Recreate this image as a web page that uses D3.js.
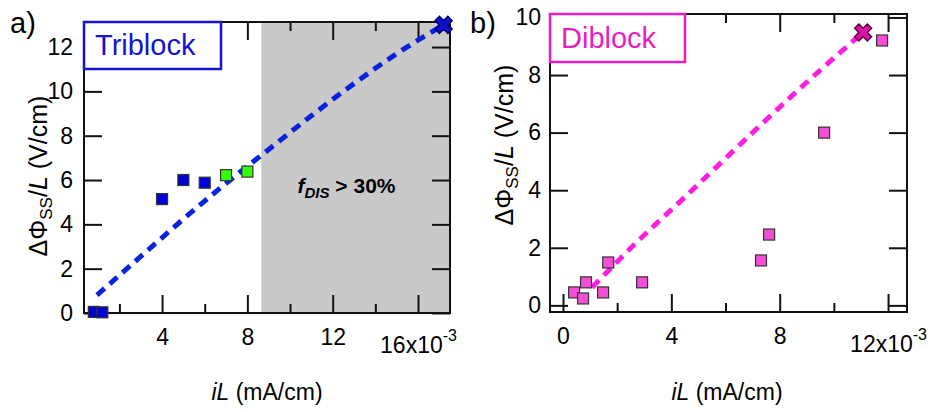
<!DOCTYPE html>
<html>
<head>
<meta charset="utf-8">
<script src="https://cdn.jsdelivr.net/npm/d3@7"></script>
<style>
  body { margin: 0; background: #fff; }
  svg text { font-family: "Liberation Sans", Arial, sans-serif; fill: #000; }
</style>
</head>
<body>
<div id="chart"></div>
<script>
// values in units of 1e-3 mA/cm on x, V/cm on y

// panel a: triblock
const triBlueX = [0.8, 1.2, 4.0, 5.0, 6.0];
const triBlueY = [0.05, 0.03, 5.14, 6.0, 5.88];
const triGreenX = [7.0, 8.0];
const triGreenY = [6.22, 6.38];
const triCross = [17.2, 13.0];
const triFitX = [0.95, 3, 5, 7, 9, 11, 13, 15, 17.2];
const triFitY = [0.81, 2.55, 4.24, 5.85, 7.38, 8.9, 10.35, 11.7, 13.0];
const triShadeFrom = 8.65;
const triXTicks = [4, 8, 12, 16];
const triXMinor = [2, 6, 10, 14];
const triYTicks = [0, 2, 4, 6, 8, 10, 12];

// panel b: diblock
const diX = [0.41, 0.74, 0.85, 1.48, 1.67, 2.92, 7.31, 7.61, 9.64, 11.78];
const diY = [0.45, 0.24, 0.8, 0.45, 1.49, 0.8, 1.56, 2.46, 6.0, 9.2];
const diCross = [11.08, 9.48];
const diFitX = [1.07, 2.73, 4.43, 7, 9, 11.08];
const diFitY = [0.62, 2.2, 3.7, 6.0, 7.75, 9.48];
const diXTicks = [0, 4, 8, 12];
const diXMinor = [2, 6, 10];
const diYTicks = [0, 2, 4, 6, 8, 10];

const svg = d3.select('#chart').append('svg')
  .attr('width', 933)
  .attr('height', 412);

function drawPanel(p) {
  const x = d3.scaleLinear().domain(p.xDomain).range([p.left, p.right]);
  const y = d3.scaleLinear().domain(p.yDomain).range([p.bottom, p.top]);
  const g = svg.append('g');
  const w = p.right - p.left, h = p.bottom - p.top;

  if (p.shadeFrom != null) {
    g.append('rect')
      .attr('x', x(p.shadeFrom)).attr('y', p.top)
      .attr('width', p.right - x(p.shadeFrom)).attr('height', h)
      .attr('fill', '#c9c9c9');
  }

  // inward ticks on all four sides
  const lastX = p.xTicks[p.xTicks.length - 1];
  const bottom = g.append('g').attr('transform', `translate(0,${p.bottom})`)
    .call(d3.axisBottom(x).tickValues(p.xTicks).tickSizeInner(-18).tickSizeOuter(0).tickPadding(16)
      .tickFormat(d => d));
  const bottomMinor = g.append('g').attr('transform', `translate(0,${p.bottom})`)
    .call(d3.axisBottom(x).tickValues(p.xMinor).tickSizeInner(-9).tickSizeOuter(0).tickFormat(''));
  const top = g.append('g').attr('transform', `translate(0,${p.top})`)
    .call(d3.axisTop(x).tickValues(p.xTicks).tickSizeInner(-18).tickSizeOuter(0).tickFormat(''));
  const topMinor = g.append('g').attr('transform', `translate(0,${p.top})`)
    .call(d3.axisTop(x).tickValues(p.xMinor).tickSizeInner(-9).tickSizeOuter(0).tickFormat(''));
  const left = g.append('g').attr('transform', `translate(${p.left},0)`)
    .call(d3.axisLeft(y).tickValues(p.yTicks).tickSizeInner(-18).tickSizeOuter(0).tickPadding(p.yPad));
  const right = g.append('g').attr('transform', `translate(${p.right},0)`)
    .call(d3.axisRight(y).tickValues(p.yTicks).tickSizeInner(-18).tickSizeOuter(0).tickFormat(''));

  [bottom, bottomMinor, top, topMinor, left, right].forEach(a => {
    a.select('.domain').remove();
    a.selectAll('line').attr('stroke', '#111').attr('stroke-width', 2);
    a.selectAll('text').attr('font-size', 23).attr('font-family', '"Liberation Sans", Arial, sans-serif');
  });

  // exponent on the last x label
  bottom.selectAll('.tick text').filter(d => d === lastX)
    .text(null)
    .attr('dy', null).attr('y', 40)
    .call(t => {
      t.append('tspan').text(lastX + 'x10');
      t.append('tspan').attr('font-size', 16).attr('dy', -12).text('-3');
    });

  g.append('rect')
    .attr('x', p.left).attr('y', p.top).attr('width', w).attr('height', h)
    .attr('fill', 'none').attr('stroke', '#111').attr('stroke-width', 2);

  if (p.shadeFrom != null) {
    const t = g.append('text').attr('x', x(p.noteX)).attr('y', y(p.noteY))
      .attr('font-size', 21).attr('font-weight', 'bold');
    t.append('tspan').attr('font-style', 'italic').text('f');
    t.append('tspan').attr('font-style', 'italic').attr('font-size', 15).attr('dy', 5).text('DIS');
    t.append('tspan').attr('dy', -5).text(' > 30%');
  }

  // fit curve
  const line = d3.line().x(d => x(d[0])).y(d => y(d[1])).curve(d3.curveMonotoneX);
  g.append('path')
    .datum(d3.zip(p.fitX, p.fitY))
    .attr('d', line)
    .attr('fill', 'none')
    .attr('stroke', p.lineColor)
    .attr('stroke-width', 5)
    .attr('stroke-dasharray', '10,7');

  // square markers
  p.series.forEach(s => {
    g.selectAll(null)
      .data(d3.zip(s.x, s.y))
      .join('rect')
      .attr('x', d => x(d[0]) - 5.5).attr('y', d => y(d[1]) - 5.5)
      .attr('width', 11).attr('height', 11)
      .attr('fill', s.color)
      .attr('stroke', '#333').attr('stroke-width', 1.2);
  });

  // cross marker
  g.append('path')
    .attr('d', d3.symbol(d3.symbolCross, 180)())
    .attr('transform', `translate(${x(p.cross[0])},${y(p.cross[1])}) rotate(45)`)
    .attr('fill', p.crossColor)
    .attr('stroke', p.crossStroke).attr('stroke-width', 1.5);

  // legend box
  g.append('rect')
    .attr('x', p.left).attr('y', p.top).attr('width', p.boxW).attr('height', p.boxH)
    .attr('fill', '#fff').attr('stroke', p.boxColor).attr('stroke-width', 2.5);
  g.append('text')
    .attr('x', p.left + 11).attr('y', p.top + p.boxH - 14)
    .attr('font-size', 29).style('fill', p.boxColor)
    .text(p.name);

  // panel letter
  g.append('text').attr('x', p.letterX).attr('y', 33).attr('font-size', 29).text(p.letter);

  // y title
  const yt = g.append('text')
    .attr('transform', `translate(${p.yTitleX},${p.yTitleY}) rotate(-90)`)
    .attr('text-anchor', 'middle').attr('font-size', 25);
  yt.append('tspan').text('ΔΦ');
  yt.append('tspan').attr('font-size', 17).attr('dy', 5).text('SS');
  yt.append('tspan').attr('dy', -5).text('/');
  yt.append('tspan').attr('font-style', 'italic').text('L');
  yt.append('tspan').text(' (V/cm)');

  // x title
  const xt = g.append('text')
    .attr('x', p.xTitleX).attr('y', 400)
    .attr('text-anchor', 'middle').attr('font-size', 23);
  xt.append('tspan').attr('font-style', 'italic').text('iL');
  xt.append('tspan').text(' (mA/cm)');
}

drawPanel({
  left: 84, right: 450, top: 22, bottom: 313,
  xDomain: [0.34, 17.5], yDomain: [0, 13.13],
  xTicks: triXTicks, xMinor: triXMinor, yTicks: triYTicks, yPad: 11,
  shadeFrom: triShadeFrom, noteX: 10.35, noteY: 5.4,
  fitX: triFitX, fitY: triFitY, lineColor: '#0a22dd',
  series: [
    { x: triBlueX, y: triBlueY, color: '#0000d8' },
    { x: triGreenX, y: triGreenY, color: '#33ff00' }
  ],
  cross: triCross, crossColor: '#1010d0', crossStroke: '#000070',
  name: 'Triblock', boxColor: '#1414d2', boxW: 137, boxH: 47,
  letter: 'a)', letterX: 10,
  yTitleX: 47, yTitleY: 176, xTitleX: 267
});

drawPanel({
  left: 550, right: 907, top: 14, bottom: 312,
  xDomain: [-0.48, 12.7], yDomain: [-0.23, 10.12],
  xTicks: diXTicks, xMinor: diXMinor, yTicks: diYTicks, yPad: 9,
  shadeFrom: null,
  fitX: diFitX, fitY: diFitY, lineColor: '#ff1ee0',
  series: [
    { x: diX, y: diY, color: '#f44fd4' }
  ],
  cross: diCross, crossColor: '#dd10aa', crossStroke: '#5a0040',
  name: 'Diblock', boxColor: '#e61ec4', boxW: 135, boxH: 48,
  letter: 'b)', letterX: 470,
  yTitleX: 513, yTitleY: 145, xTitleX: 727
});
</script>
</body>
</html>
